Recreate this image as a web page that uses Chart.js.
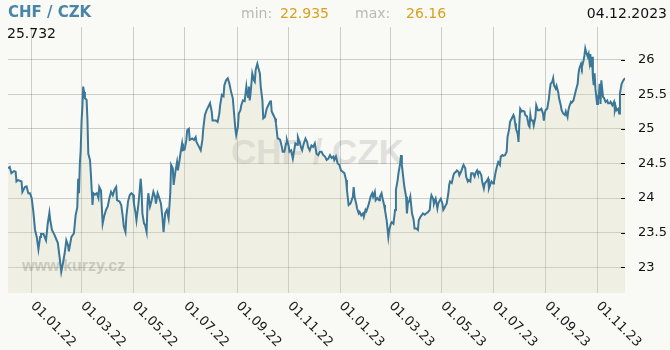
<!DOCTYPE html>
<html>
<head>
<meta charset="utf-8">
<script src="https://cdn.jsdelivr.net/npm/chart.js@4.4.1/dist/chart.umd.min.js"></script>
<style>
  html, body { margin: 0; padding: 0; background: #f9faf5; }
  #wrap { position: relative; width: 670px; height: 350px; overflow: hidden; font-family: "DejaVu Sans", sans-serif; }
  #wrap div { position: absolute; white-space: nowrap; line-height: 1; }
  canvas { position: absolute; left: 0; top: 0; z-index: 2; }
  .mark { z-index: 1; }
  .head { z-index: 3; }
</style>
</head>
<body>
<div id="wrap">
  <div class="mark" style="left:231px; top:132px; font: bold 35px 'Liberation Sans'; color:#e0e0dd;">CHF / CZK</div>
  <div class="mark" style="left:22px; top:257px; font: bold 16px 'Liberation Sans'; color:#c6c6c3;">www.kurzy.cz</div>
  <div class="head" style="left:8px; top:5px; font-weight:bold; font-size:15px; color:#4a84a7;">CHF / CZK</div>
  <div class="head" style="left:241px; top:6px; font-size:14px; color:#b9b9b6;">min:</div>
  <div class="head" style="left:280px; top:6px; font-size:14px; color:#d6a21e;">22.935</div>
  <div class="head" style="left:355px; top:6px; font-size:14px; color:#b9b9b6;">max:</div>
  <div class="head" style="left:406px; top:6px; font-size:14px; color:#d6a21e;">26.16</div>
  <div class="head" style="right:3px; top:6px; font-size:14px; color:#111;">04.12.2023</div>
  <div class="head" style="left:7px; top:26px; font-size:14px; color:#111;">25.732</div>
  <canvas id="chart" width="670" height="350"></canvas>
</div>
<script>
const dates = [
  '04.12.21','06.12.21','08.12.21','11.12.21','13.12.21','14.12.21','16.12.21','20.12.21','21.12.21','24.12.21','26.12.21','28.12.21','30.12.21',
  '01.01.22','03.01.22','05.01.22','07.01.22','09.01.22','11.01.22','12.01.22','15.01.22','18.01.22','20.01.22','22.01.22','23.01.22','25.01.22','28.01.22',
  '01.02.22','03.02.22','05.02.22','07.02.22','09.02.22','11.02.22','13.02.22','14.02.22','17.02.22','20.02.22','22.02.22','24.02.22','25.02.22','26.02.22','27.02.22','28.02.22',
  '01.03.22','02.03.22','03.03.22','04.03.22','05.03.22','07.03.22','08.03.22','09.03.22','11.03.22','12.03.22','14.03.22','15.03.22','17.03.22','19.03.22','21.03.22','22.03.22','24.03.22','26.03.22','28.03.22','30.03.22',
  '01.04.22','03.04.22','05.04.22','07.04.22','09.04.22','11.04.22','12.04.22','15.04.22','17.04.22','19.04.22','20.04.22','22.04.22','23.04.22','25.04.22','27.04.22','29.04.22',
  '01.05.22','02.05.22','04.05.22','05.05.22','07.05.22','08.05.22','10.05.22','11.05.22','12.05.22','14.05.22','15.05.22','17.05.22','18.05.22','19.05.22','21.05.22','23.05.22','25.05.22','27.05.22','28.05.22','30.05.22',
  '01.06.22','03.06.22','05.06.22','06.06.22','08.06.22','10.06.22','12.06.22','14.06.22','15.06.22','17.06.22','18.06.22','20.06.22','22.06.22','23.06.22','25.06.22','26.06.22','28.06.22','29.06.22',
  '01.07.22','03.07.22','04.07.22','06.07.22','07.07.22','10.07.22','12.07.22','14.07.22','15.07.22','18.07.22','20.07.22','22.07.22','23.07.22','25.07.22','27.07.22','29.07.22','31.07.22',
  '02.08.22','03.08.22','07.08.22','09.08.22','11.08.22','12.08.22','14.08.22','16.08.22','17.08.22','19.08.22','21.08.22','23.08.22','25.08.22','27.08.22','28.08.22','30.08.22','31.08.22',
  '02.09.22','03.09.22','05.09.22','06.09.22','08.09.22','10.09.22','12.09.22','13.09.22','14.09.22','15.09.22','16.09.22','17.09.22','19.09.22','21.09.22','22.09.22','23.09.22','25.09.22','26.09.22','28.09.22','29.09.22',
  '01.10.22','02.10.22','04.10.22','06.10.22','08.10.22','10.10.22','11.10.22','12.10.22','14.10.22','16.10.22','17.10.22','19.10.22','20.10.22','22.10.22','24.10.22','25.10.22','27.10.22','29.10.22','30.10.22',
  '01.11.22','02.11.22','04.11.22','06.11.22','08.11.22','09.11.22','11.11.22','12.11.22','14.11.22','16.11.22','17.11.22','19.11.22','21.11.22','23.11.22','24.11.22','26.11.22','28.11.22','30.11.22',
  '02.12.22','04.12.22','06.12.22','08.12.22','10.12.22','12.12.22','14.12.22','16.12.22','18.12.22','20.12.22','22.12.22','24.12.22','25.12.22','27.12.22','29.12.22','31.12.22',
  '02.01.23','04.01.23','06.01.23','08.01.23','09.01.23','11.01.23','13.01.23','14.01.23','16.01.23','17.01.23','18.01.23','20.01.23','21.01.23','23.01.23','24.01.23','26.01.23','28.01.23','29.01.23','31.01.23',
  '01.02.23','03.02.23','05.02.23','06.02.23','08.02.23','09.02.23','11.02.23','12.02.23','14.02.23','16.02.23','17.02.23','19.02.23','20.02.23','22.02.23','23.02.23','25.02.23','27.02.23','28.02.23',
  '02.03.23','03.03.23','05.03.23','07.03.23','08.03.23','10.03.23','11.03.23','13.03.23','14.03.23','15.03.23','17.03.23','18.03.23','20.03.23','21.03.23','22.03.23','24.03.23','25.03.23','27.03.23','29.03.23','30.03.23',
  '01.04.23','03.04.23','04.04.23','06.04.23','09.04.23','11.04.23','13.04.23','15.04.23','17.04.23','18.04.23','19.04.23','21.04.23','22.04.23','24.04.23','26.04.23','27.04.23','29.04.23','30.04.23',
  '02.05.23','03.05.23','04.05.23','06.05.23','07.05.23','09.05.23','10.05.23','11.05.23','13.05.23','15.05.23','16.05.23','18.05.23','19.05.23','21.05.23','22.05.23','24.05.23','26.05.23','27.05.23','29.05.23','30.05.23',
  '01.06.23','02.06.23','04.06.23','05.06.23','07.06.23','09.06.23','10.06.23','12.06.23','13.06.23','15.06.23','17.06.23','18.06.23','20.06.23','21.06.23','23.06.23','25.06.23','26.06.23','28.06.23','29.06.23',
  '01.07.23','02.07.23','04.07.23','06.07.23','07.07.23','09.07.23','10.07.23','12.07.23','13.07.23','15.07.23','17.07.23','18.07.23','20.07.23','21.07.23','23.07.23','25.07.23','26.07.23','27.07.23','28.07.23','30.07.23','31.07.23',
  '01.08.23','02.08.23','04.08.23','05.08.23','07.08.23','08.08.23','10.08.23','12.08.23','13.08.23','14.08.23','15.08.23','17.08.23','18.08.23','20.08.23','21.08.23','23.08.23','25.08.23','27.08.23','29.08.23','30.08.23','31.08.23',
  '01.09.23','03.09.23','05.09.23','06.09.23','07.09.23','09.09.23','10.09.23','11.09.23','13.09.23','14.09.23','16.09.23','17.09.23','19.09.23','20.09.23','22.09.23','24.09.23','25.09.23','27.09.23','28.09.23','29.09.23',
  '01.10.23','02.10.23','04.10.23','05.10.23','07.10.23','09.10.23','10.10.23','11.10.23','13.10.23','14.10.23','16.10.23','17.10.23','18.10.23','19.10.23','21.10.23','22.10.23','23.10.23','24.10.23','25.10.23','26.10.23','27.10.23','28.10.23','29.10.23','30.10.23',
  '01.11.23','02.11.23','03.11.23','04.11.23','05.11.23','06.11.23','08.11.23','09.11.23','11.11.23','13.11.23','14.11.23','16.11.23','17.11.23','19.11.23','21.11.23','22.11.23','23.11.23','24.11.23','26.11.23','27.11.23','28.11.23','30.11.23',
  '02.12.23','04.12.23'
];

const rates = [
  24.43,24.45,24.36,24.39,24.38,24.24,24.26,24.24,24.09,24.16,24.17,24.07,24.07,
  24.00,23.80,23.54,23.44,23.26,23.44,23.48,23.48,23.39,23.63,23.79,23.68,23.54,23.47,
  23.35,23.15,22.935,23.06,23.20,23.39,23.32,23.23,23.44,23.49,23.75,23.87,24.28,24.07,24.50,24.69,
  25.10,25.32,25.61,25.53,25.44,25.42,25.13,24.64,24.55,24.36,23.90,24.07,24.05,24.07,24.00,24.16,24.11,23.63,23.75,23.83,
  23.88,24.00,24.09,24.04,24.12,24.16,23.97,23.95,23.90,23.71,23.59,23.51,23.73,23.95,24.04,24.07,
  24.05,23.92,23.78,23.68,23.88,24.00,24.28,24.12,23.78,23.63,23.62,23.51,23.90,24.07,23.88,23.97,24.09,24.02,23.92,24.07,
  24.00,23.92,23.68,23.51,23.78,23.83,23.71,24.07,24.48,24.43,24.19,24.38,24.52,24.40,24.55,24.64,24.79,24.69,
  24.70,24.84,24.98,25.00,24.84,24.86,24.84,24.88,24.81,24.74,24.69,24.84,25.00,25.20,25.27,25.32,25.37,
  25.25,25.12,25.12,25.10,25.22,25.34,25.49,25.47,25.63,25.70,25.73,25.65,25.53,25.44,25.29,25.00,24.91,
  25.03,25.22,25.27,25.34,25.41,25.40,25.61,25.51,25.46,25.61,25.41,25.51,25.80,25.70,25.68,25.85,25.94,25.89,25.80,25.61,
  25.41,25.15,25.17,25.29,25.34,25.39,25.41,25.25,25.20,25.15,25.08,24.86,24.86,24.84,24.74,24.67,24.67,24.79,24.84,
  24.76,24.67,24.69,24.57,24.72,24.79,24.77,24.88,24.81,24.72,24.69,24.79,24.86,24.81,24.74,24.69,24.76,24.74,
  24.79,24.64,24.62,24.67,24.67,24.62,24.60,24.55,24.57,24.62,24.58,24.60,24.55,24.60,24.50,24.48,
  24.40,24.38,24.36,24.26,24.12,23.90,23.92,23.95,24.02,24.16,24.02,23.92,23.85,23.78,23.80,23.75,23.78,23.73,23.83,
  23.81,23.88,23.97,24.02,24.07,24.02,24.09,23.97,24.00,23.97,24.02,24.07,24.00,23.90,23.83,23.68,23.44,23.54,
  23.63,23.65,23.63,23.83,24.12,24.26,24.36,24.50,24.62,24.48,24.26,24.16,24.02,23.78,23.92,23.97,24.02,23.78,23.68,23.56,
  23.56,23.54,23.68,23.73,23.78,23.76,23.78,23.80,23.83,23.97,24.04,23.99,23.92,23.99,23.85,23.92,23.97,23.99,
  23.92,23.83,23.85,23.90,23.92,24.07,24.19,24.24,24.22,24.33,24.36,24.38,24.40,24.38,24.33,24.38,24.45,24.48,24.43,24.31,
  24.24,24.26,24.24,24.36,24.36,24.31,24.36,24.40,24.36,24.38,24.33,24.24,24.14,24.21,24.24,24.28,24.14,24.21,24.24,
  24.21,24.24,24.38,24.48,24.52,24.48,24.60,24.62,24.61,24.62,24.67,24.88,25.00,25.10,25.15,25.20,25.17,25.08,25.00,24.93,24.81,
  25.08,25.29,25.25,25.26,25.25,25.20,25.18,25.05,25.03,25.20,25.12,25.12,25.05,25.17,25.34,25.27,25.27,25.29,25.22,25.12,25.22,
  25.27,25.29,25.44,25.56,25.65,25.68,25.73,25.63,25.58,25.62,25.53,25.44,25.34,25.27,25.22,25.20,25.25,25.17,25.27,25.32,
  25.39,25.38,25.41,25.46,25.56,25.65,25.80,25.87,25.94,25.89,25.99,26.06,26.16,26.11,26.04,26.08,25.97,26.08,25.89,26.04,25.75,25.63,25.80,25.58,
  25.36,25.46,25.45,25.65,25.36,25.70,25.46,25.45,25.39,25.41,25.37,25.37,25.39,25.34,25.39,25.27,25.32,25.27,25.29,25.22,25.51,25.65,
  25.70,25.732
];

// x axis: tick dates and their labels
const xTickDates = ['01.01.22','01.03.22','01.05.22','01.07.22','01.09.22','01.11.22','01.01.23','01.03.23','01.05.23','01.07.23','01.09.23','01.11.23'];
const xTickLabels = ['01.01.22','01.03.22','01.05.22','01.07.22','01.09.22','01.11.22','01.01.23','01.03.23','01.05.23','01.07.23','01.09.23','01.11.23'];

// y axis
const yTicks = [23, 23.5, 24, 24.5, 25, 25.5, 26];
const yTickLabels = ['23', '23.5', '24', '24.5', '25', '25.5', '26'];

const startDate = '04.12.21';
const endDate = '04.12.23';

function dayOf(s) {
  const [d, m, y] = s.split('.').map(Number);
  return Date.UTC(2000 + y, m - 1, d) / 86400000;
}
const day0 = dayOf(startDate);
const toX = s => dayOf(s) - day0;

const points = dates.map((d, i) => ({ x: toX(d), y: rates[i] }));

Chart.defaults.font.family = '"DejaVu Sans", sans-serif';

// rotated date labels and right-edge tick marks
const decor = {
  id: 'decor',
  afterDraw(chart) {
    const { ctx, chartArea: a, scales: { x, y } } = chart;
    ctx.save();
    ctx.fillStyle = '#000000';
    yTicks.forEach(v => {
      const py = Math.round(y.getPixelForValue(v));
      ctx.fillRect(a.right - 4, py, 4, 1);
    });
    ctx.font = '13px "DejaVu Sans"';
    ctx.fillStyle = '#1a1a1a';
    ctx.textAlign = 'left';
    ctx.textBaseline = 'middle';
    xTickDates.forEach((d, i) => {
      const px = x.getPixelForValue(toX(d));
      ctx.save();
      ctx.translate(px + 1, a.bottom + 11);
      ctx.rotate(Math.PI / 4);
      ctx.fillText(xTickLabels[i], 0, 0);
      ctx.restore();
    });
    ctx.restore();
  }
};

new Chart(document.getElementById('chart').getContext('2d'), {
  type: 'line',
  data: {
    datasets: [{
      data: points,
      borderColor: '#3b7798',
      borderWidth: 2,
      backgroundColor: 'rgba(214, 214, 186, 0.3)',
      fill: 'start',
      pointRadius: 0,
      tension: 0,
    }],
  },
  options: {
    responsive: false,
    animation: false,
    layout: { padding: { left: 8, top: 27, right: 0, bottom: 0 } },
    plugins: {
      legend: { display: false },
      tooltip: { enabled: false },
    },
    scales: {
      x: {
        type: 'linear',
        min: 0,
        max: toX(endDate),
        afterBuildTicks: s => { s.ticks = xTickDates.map(d => ({ value: toX(d) })); },
        afterFit: s => { s.height = 57; },
        ticks: { display: false },
        grid: { color: 'rgba(0, 0, 0, 0.18)', lineWidth: 1, drawTicks: false },
        border: { display: false },
      },
      y: {
        position: 'right',
        min: 22.63,
        max: 26.47,
        afterBuildTicks: s => { s.ticks = yTicks.map(v => ({ value: v })); },
        afterFit: s => { s.width = 45; },
        ticks: {
          padding: 13,
          color: '#111',
          font: { size: 13 },
          callback: (v, i) => yTickLabels[i],
        },
        grid: { color: 'rgba(0, 0, 0, 0.18)', lineWidth: 1, drawTicks: false },
        border: { display: false },
      },
    },
  },
  plugins: [decor],
});
</script>
</body>
</html>
